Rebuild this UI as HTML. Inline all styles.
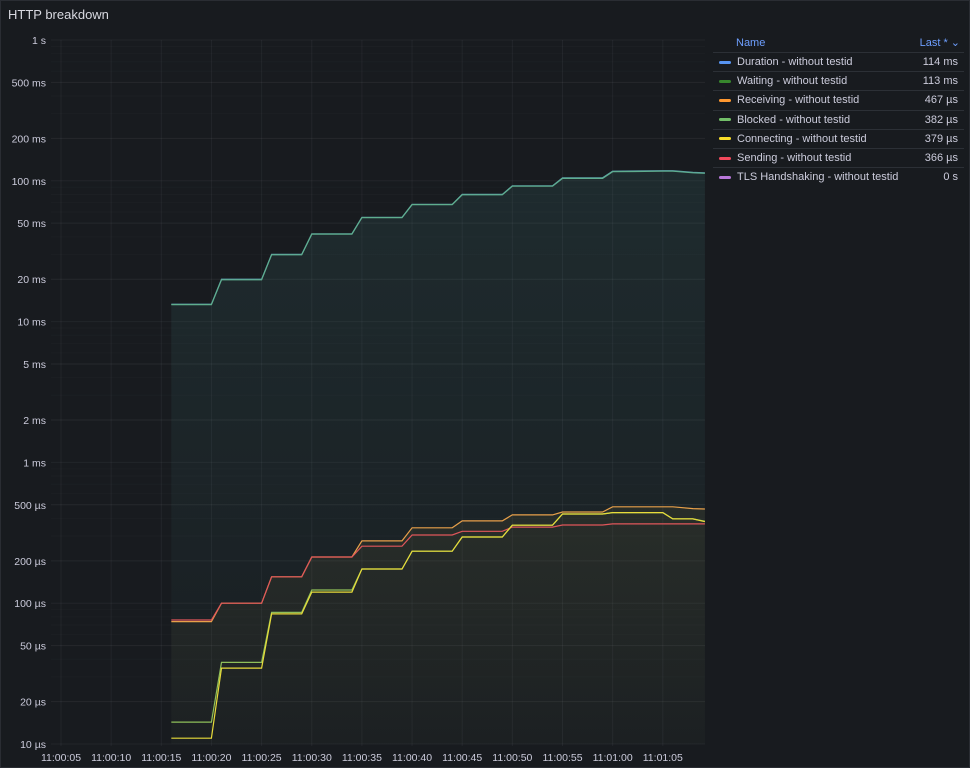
<!DOCTYPE html>
<html><head><meta charset="utf-8"><style>
body{margin:0;background:#181b1f;font-family:"Liberation Sans",sans-serif;color:#ccccdc;}
#panel{position:relative;width:970px;height:768px;background:#181b1f;border:1px solid #2a2d33;box-sizing:border-box;overflow:hidden}
#title{position:absolute;left:7px;top:6px;font-size:13px;color:#d8d9e0}
#legend{position:absolute;left:712px;top:32px;width:251px;font-size:11px}
.row{height:19.2px;display:flex;align-items:center;border-top:1px solid #2c3036;box-sizing:border-box}
.hdr{height:19px;display:flex;align-items:center;color:#6e9fff}
.sw{width:12px;height:3px;border-radius:2px;margin:0 6px 0 6px}
.nm{flex:1}
.val{padding-right:6px;text-align:right}
</style></head><body>
<div id="panel">
<div id="title">HTTP breakdown</div>
<svg id="chart" width="970" height="768" style="position:absolute;left:0;top:0"></svg>
<div id="legend">
<div class="hdr"><span style="flex:1;padding-left:23px">Name</span><span style="padding-right:4px">Last * ⌄</span></div>
</div>
</div>
<script>
const times=[16,20,21,25,26,29,30,34,35,39,40,44,45,49,50,54,55,59,60,65,66,68,69.2];
// values in microseconds
const duration=[13300,13300,20000,20000,30000,30000,42000,42000,55000,55000,68000,68000,80000,80000,92000,92000,105000,105000,117000,118000,118000,115000,114000];
const waiting=[13200,13200,19800,19800,29800,29800,41800,41800,54800,54800,67800,67800,79500,79500,91500,91500,104000,104000,116000,117000,117000,114000,113000];
const receiving=[74,74,100,100,154,154,213,213,277,277,343,343,384,384,424,424,444,444,484,484,484,470,467];
const blocked=[14.3,14.3,38,38,86,86,124,124,175,175,234,234,295,295,358,358,430,430,440,440,397,397,382];
const connecting=[11,11,34.6,34.6,84,84,120,120,175,175,234,234,295,295,358,358,430,430,440,440,397,397,379];
const sending=[76,76,100,100,154,154,213,213,254,254,305,305,324,324,347,347,359,359,366,366,366,366,366];
const yTicks=[1e6,5e5,2e5,1e5,5e4,2e4,1e4,5e3,2e3,1e3,500,200,100,50,20,10];
const yLabels=["1 s","500 ms","200 ms","100 ms","50 ms","20 ms","10 ms","5 ms","2 ms","1 ms","500 µs","200 µs","100 µs","50 µs","20 µs","10 µs"];
const xTicks=[5,10,15,20,25,30,35,40,45,50,55,60,65];
const xLabels=["11:00:05","11:00:10","11:00:15","11:00:20","11:00:25","11:00:30","11:00:35","11:00:40","11:00:45","11:00:50","11:00:55","11:01:00","11:01:05"];
const legNames=["Duration - without testid","Waiting - without testid","Receiving - without testid","Blocked - without testid","Connecting - without testid","Sending - without testid","TLS Handshaking - without testid"];
const legVals=["114 ms","113 ms","467 µs","382 µs","379 µs","366 µs","0 s"];
const legColors=["#5794f2","#37872d","#ff9830","#73bf69","#fade2a","#f2495c","#b877d9"];

const X=t=>9.85+t*10.03;
const Y=v=>743-(Math.log10(v)-1)*140.8;
const NS="http://www.w3.org/2000/svg";
const svg=document.getElementById('chart');
function mk(tag,attrs){const e=document.createElementNS(NS,tag);for(const k in attrs)e.setAttribute(k,attrs[k]);svg.appendChild(e);return e;}
const defs=document.createElementNS(NS,'defs');svg.appendChild(defs);
defs.innerHTML='<linearGradient id="gT" x1="0" y1="0" x2="0" y2="1"><stop offset="0" stop-color="#4fa3a0" stop-opacity="0.12"/><stop offset="1" stop-color="#4fa3a0" stop-opacity="0.02"/></linearGradient><linearGradient id="gY" x1="0" y1="0" x2="0" y2="1"><stop offset="0" stop-color="#a08a40" stop-opacity="0.10"/><stop offset="1" stop-color="#a08a40" stop-opacity="0.02"/></linearGradient>';
for(let d=1;d<6;d++)for(let m=2;m<10;m++){const v=Math.pow(10,d)*m;const l=mk('line',{x1:50,x2:704,y1:Y(v),y2:Y(v),stroke:'rgba(204,204,220,0.025)'});}
yTicks.forEach((v,i)=>{const l=mk('line',{x1:50,x2:704,y1:Y(v),y2:Y(v),stroke:'rgba(204,204,220,0.06)'});
const t=mk('text',{x:45,y:Y(v)+4,'text-anchor':'end','font-size':'10.5',fill:'#ccccdc'});t.textContent=yLabels[i];});
xTicks.forEach((v,i)=>{const l=mk('line',{x1:X(v),x2:X(v),y1:39,y2:745,stroke:'rgba(204,204,220,0.06)'});
const t=mk('text',{x:X(v),y:760,'text-anchor':'middle','font-size':'10.5',fill:'#ccccdc'});t.textContent=xLabels[i];});
function pts(arr){return times.map((t,i)=>X(t).toFixed(1)+','+Y(arr[i]).toFixed(1)).join(' ');}
function area(arr,fill,name){const p=mk('polygon',{points:X(times[0])+',743 '+pts(arr)+' '+X(times[times.length-1])+',743',fill:fill});}
area(duration,'url(#gT)','duration-area');
area(receiving,'url(#gY)','lower-area');
function line(arr,c,name){const p=mk('polyline',{points:pts(arr),fill:'none',stroke:c,'stroke-width':1.2});}
line(duration,'#5a9fb0','duration-line');
line(waiting,'#5fae8e','waiting-line');
line(receiving,'#e8a04a','receiving-line');
line(sending,'#e0565a','sending-line');
line(blocked,'#8fbf5a','blocked-line');
line(connecting,'#e8dc3a','connecting-line');
const lg=document.getElementById('legend');
legNames.forEach((n,i)=>{const r=document.createElement('div');r.className='row';


r.innerHTML='<span class="sw" style="background:'+legColors[i]+'"></span><span class="nm">'+n+'</span><span class="val">'+legVals[i]+'</span>';lg.appendChild(r);});
</script>
</body></html>
